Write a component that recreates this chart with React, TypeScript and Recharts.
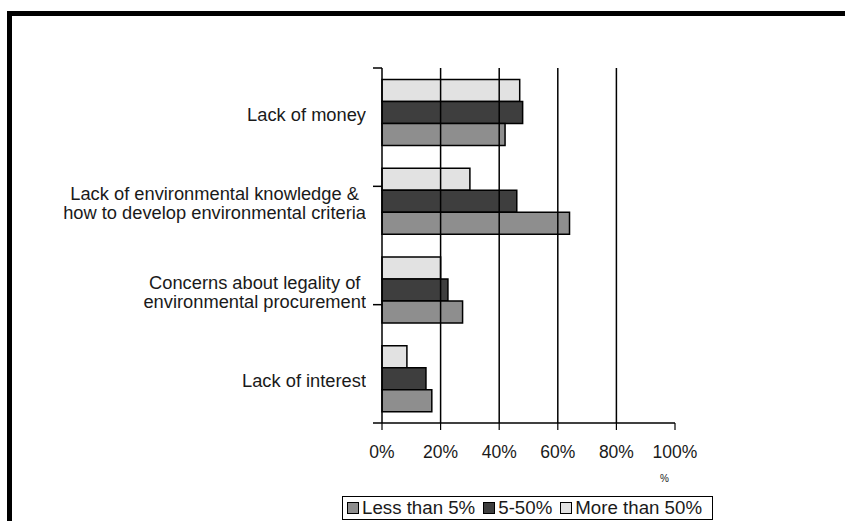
import { BarChart, Bar, XAxis, YAxis, ReferenceLine } from "recharts";

const barriers = [
  "Lack of money",
  "Lack of environmental knowledge & how to develop environmental criteria",
  "Concerns about legality of environmental procurement",
  "Lack of interest",
];

// label line breaks for the category axis
const barrierLines = [
  ["Lack of money"],
  ["Lack of environmental knowledge &", "how to develop environmental criteria"],
  ["Concerns about legality of", "environmental procurement"],
  ["Lack of interest"],
];

const moreThan50 = [47, 30, 20, 8.5];
const from5to50 = [48, 46, 22.5, 15];
const lessThan5 = [42, 64, 27.5, 17];

const percentTicks = [0, 20, 40, 60, 80, 100];
const gridValues = [20, 40, 60, 80];
const bandEdges = [0, 1, 2, 3, 4];

const FONT = "Arial, 'Liberation Sans', Helvetica, sans-serif";
const TEXT = "#1a1a1a";

const COLORS = {
  less: "#8e8e8e",
  mid: "#3e3e3e",
  more: "#e2e2e2",
};

const data = barriers.map((name, i) => ({
  name,
  more: moreThan50[i],
  mid: from5to50[i],
  less: lessThan5[i],
}));

// category label: block right-aligned against the axis, lines centred inside it
const CategoryTick = (props: any) => {
  const { y, payload } = props;
  const lines = barrierLines[payload.index] ?? [payload.value];
  const lh = 19;
  const h = lines.length * lh + 6;
  const right = 366;
  const w = 340;
  return (
    <foreignObject x={right - w} y={y - h / 2 + 2} width={w} height={h}>
      <div
        style={{
          display: "flex",
          justifyContent: "flex-end",
          height: "100%",
          alignItems: "center",
        }}
      >
        <div
          style={{
            textAlign: "center",
            fontFamily: FONT,
            fontSize: 18.3,
            lineHeight: `${lh}px`,
            color: TEXT,
            whiteSpace: "nowrap",
          }}
        >
          {lines.map((l: string, k: number) => (
            <div key={k}>{l}</div>
          ))}
        </div>
      </div>
    </foreignObject>
  );
};

const legendItems = [
  { label: "Less than 5%", color: COLORS.less },
  { label: "5-50%", color: COLORS.mid },
  { label: "More than 50%", color: COLORS.more },
];

export default function App() {
  return (
    <div
      style={{
        position: "absolute",
        left: 0,
        top: 0,
        width: 845,
        height: 521,
        background: "#fff",
        overflow: "hidden",
        fontFamily: FONT,
      }}
    >
      {/* frame */}
      <div
        style={{
          position: "absolute",
          left: 7,
          top: 11,
          width: 845,
          height: 530,
          borderTop: "5px solid #000",
          borderLeft: "5px solid #000",
        }}
      />
      <BarChart
        width={845}
        height={521}
        data={data}
        layout="vertical"
        margin={{ top: 68, right: 170, bottom: 0, left: 0 }}
        barCategoryGap="13%"
        barGap={0}
        style={{ position: "absolute", left: 0, top: 0 }}
      >
        <XAxis
          type="number"
          domain={[0, 100]}
          ticks={percentTicks}
          tickFormatter={(v) => `${v}%`}
          axisLine={{ stroke: "#000", strokeWidth: 1.5 }}
          tickLine={{ stroke: "#000", strokeWidth: 1.2 }}
          tickSize={7}
          tickMargin={16}
          height={98}
          tick={{ fontFamily: FONT, fontSize: 17.5, fill: TEXT }}
          interval={0}
        />
        {/* boundary ticks between categories, drawn on a plain 0..4 scale */}
        <YAxis
          yAxisId="band"
          type="number"
          domain={[0, 4]}
          ticks={bandEdges}
          tickFormatter={() => ""}
          axisLine={{ stroke: "#000", strokeWidth: 1.5 }}
          tickLine={{ stroke: "#000", strokeWidth: 1.5 }}
          tickSize={9}
          width={12}
          allowDataOverflow
        />
        <YAxis
          yAxisId="cat"
          type="category"
          dataKey="name"
          axisLine={false}
          tickLine={false}
          width={370}
          tick={<CategoryTick />}
          interval={0}
        />
        {gridValues.map((v) => (
          <ReferenceLine
            key={v}
            x={v}
            yAxisId="cat"
            stroke="#000"
            strokeWidth={1.5}
          />
        ))}
        <Bar
          dataKey="more"
          yAxisId="cat"
          fill={COLORS.more}
          stroke="#000"
          strokeWidth={1.5}
          isAnimationActive={false}
        />
        <Bar
          dataKey="mid"
          yAxisId="cat"
          fill={COLORS.mid}
          stroke="#000"
          strokeWidth={1.5}
          isAnimationActive={false}
        />
        <Bar
          dataKey="less"
          yAxisId="cat"
          fill={COLORS.less}
          stroke="#000"
          strokeWidth={1.5}
          isAnimationActive={false}
        />
      </BarChart>
      <div
        style={{
          position: "absolute",
          left: 660,
          top: 473,
          fontSize: 10,
          color: TEXT,
        }}
      >
        %
      </div>
      <div
        style={{
          position: "absolute",
          left: 342,
          top: 496,
          width: 371,
          height: 24,
          boxSizing: "border-box",
          border: "1.5px solid #000",
          display: "flex",
          alignItems: "center",
          paddingLeft: 4,
          fontSize: 18.7,
          color: TEXT,
          whiteSpace: "nowrap",
        }}
      >
        {legendItems.map((it) => (
          <span
            key={it.label}
            style={{ display: "flex", alignItems: "center", marginRight: 8 }}
          >
            <span
              style={{
                display: "inline-block",
                boxSizing: "border-box",
                width: 12,
                height: 12,
                background: it.color,
                border: "1.5px solid #000",
                marginRight: 3,
              }}
            />
            {it.label}
          </span>
        ))}
      </div>
    </div>
  );
}
